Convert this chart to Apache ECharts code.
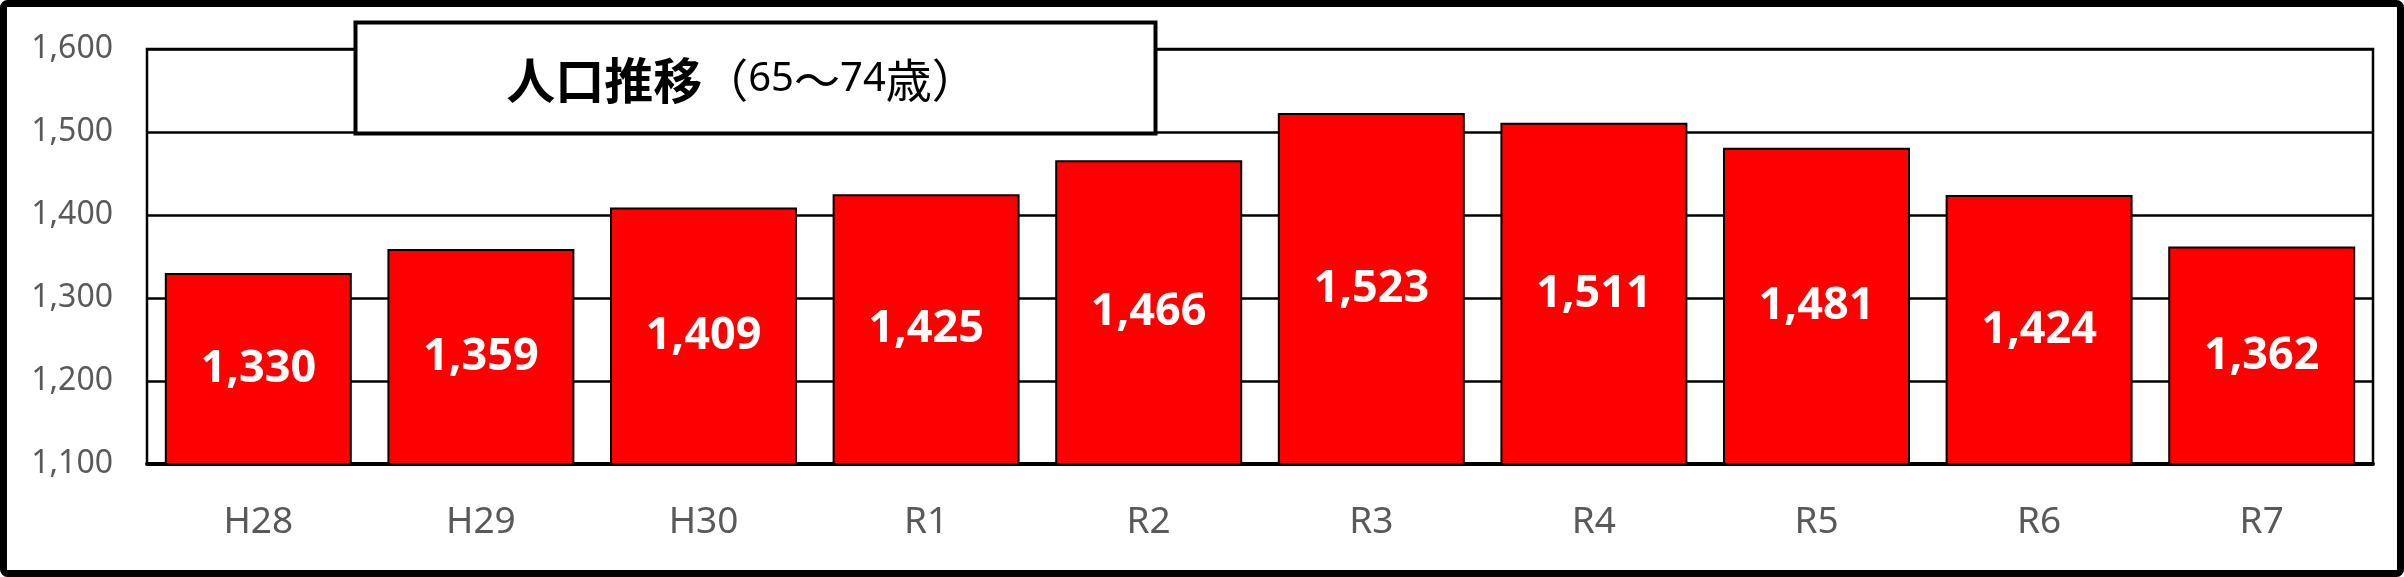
<!DOCTYPE html>
<html>
<head>
<meta charset="utf-8">
<script src="https://cdn.jsdelivr.net/npm/echarts@6/dist/echarts.min.js"></script>
<style>
html,body{margin:0;padding:0;background:#fff;}
#chart{width:2404px;height:577px;}
</style>
</head>
<body>
<div id="chart"></div>
<script>
const categories = ['H28','H29','H30','R1','R2','R3','R4','R5','R6','R7'];
const population = [1330,1359,1409,1425,1466,1523,1511,1481,1424,1362];
const yTicks = {min:1100, max:1600, interval:100};
const titleMain = '人口推移';
const titleParts = ['（','65','～','74','歳）'];

const chart = echarts.init(document.getElementById('chart'), null, {renderer:'canvas'});
const fmt = v => v.toLocaleString('en-US');
chart.setOption({
  animation:false,
  backgroundColor:'#ffffff',
  textStyle:{fontFamily:'"Noto Sans", sans-serif'},
  grid:{left:147, right:31, top:49, bottom:113, show:true, borderColor:'#000', borderWidth:2.5, backgroundColor:'transparent'},
  xAxis:{
    type:'category',
    data:categories,
    axisTick:{show:false},
    axisLine:{show:true, lineStyle:{color:'#000', width:4}},
    axisLabel:{fontSize:37, color:'#595959', margin:40, fontFamily:'"Noto Sans", sans-serif'}
  },
  yAxis:{
    type:'value',
    min:yTicks.min, max:yTicks.max, interval:yTicks.interval,
    axisLine:{show:false},
    axisTick:{show:false},
    splitLine:{show:true, lineStyle:{color:'#000', width:2.5}},
    axisLabel:{fontSize:32, color:'#595959', margin:34, formatter:v=>fmt(v), fontFamily:'"Noto Sans", sans-serif'}
  },
  series:[{
    type:'bar',
    data:population,
    barCategoryGap:'16%',
    itemStyle:{color:'#FF0000', borderColor:'#000', borderWidth:2},
    label:{
      show:true, position:'inside', color:'#fff', fontWeight:'bold', fontSize:45,
      fontFamily:'"Noto Sans", sans-serif',
      formatter:p=>fmt(p.value)
    }
  }],
  graphic:[
    {
      type:'rect', z:100,
      shape:{x:3.5, y:3.5, width:2397, height:570, r:4},
      style:{fill:'none', stroke:'#000', lineWidth:7}
    },
    {
      type:'rect', z:100,
      shape:{x:355.5, y:22.5, width:800, height:111},
      style:{fill:'#fff', stroke:'#000', lineWidth:4}
    },
    {
      type:'text', z:101,
      x:742, y:80,
      style:{
        text:'{a|'+titleMain+'}{b|'+titleParts[0]+'}{c|'+titleParts[1]+'}{b|'+titleParts[2]+'}{c|'+titleParts[3]+'}{b|'+titleParts[4]+'}',
        align:'center', verticalAlign:'middle',
        rich:{
          a:{fontFamily:'"Noto Sans CJK JP"', fontWeight:'bold', fontSize:49, fill:'#000', color:'#000'},
          b:{fontFamily:'"Noto Sans CJK JP"', fontWeight:'normal', fontSize:46, fill:'#000', color:'#000'},
          c:{fontFamily:'"Noto Sans", sans-serif', fontWeight:'normal', fontSize:40, fill:'#000', color:'#000'}
        }
      }
    }
  ]
});
</script>
</body>
</html>
